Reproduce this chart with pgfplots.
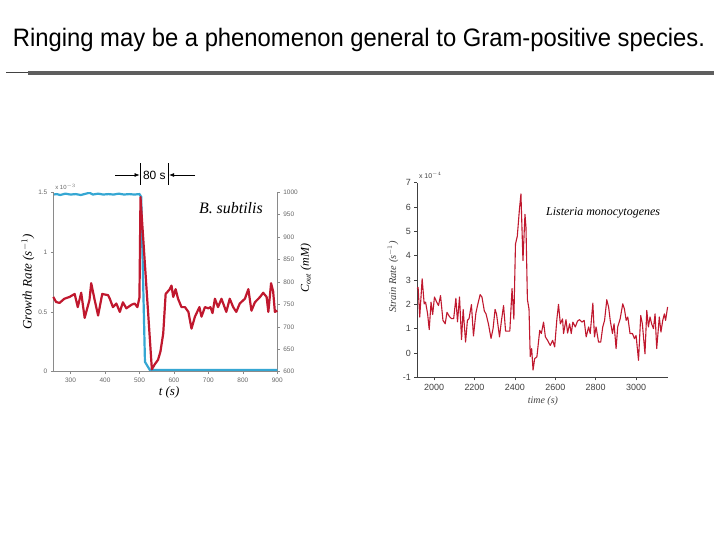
\documentclass[border=0pt]{standalone}
\usepackage{fontspec}
\setmainfont{Liberation Sans}
\newfontfamily\serif{Liberation Serif}
\usepackage{pgfplots}
\pgfplotsset{compat=1.18}
\usetikzlibrary{arrows.meta}

\definecolor{gred}{HTML}{C0182E}
\definecolor{gblue}{HTML}{35A7D3}
\definecolor{lgray}{HTML}{8A8A8A}
\definecolor{rule}{HTML}{5E5E5E}

\pgfplotsset{
  leftbox/.style={
    scale only axis, width=224bp, height=179.4bp,
    at={(53.3bp,-371.7bp)}, anchor=south west,
    xmin=250, xmax=900,
    tick align=outside, major tick length=2.5bp,
    axis line style={lgray, line width=0.6pt},
    tick style={lgray, line width=0.5pt},
    ticklabel style={font=\fontsize{6.5}{7}\selectfont, text=black!60},
    scaled ticks=false,
    /pgf/number format/1000 sep={},
    /pgf/number format/assume math mode=true,
  },
}

\begin{document}
\begin{tikzpicture}
\useasboundingbox (0,0) rectangle (720bp,-540bp);
\fill[white] (0,0) rectangle (720bp,-540bp);

% slide title and rule
\node[anchor=base, inner sep=0pt] at (359bp,-46.5bp)
  {\scalebox{1}[1.06]{\fontsize{23.9}{27}\selectfont Ringing may be a phenomenon general to Gram-positive species.}};
\draw[rule!70!black, line width=1.2bp] (6bp,-72.5bp) -- (28bp,-72.5bp);
\draw[rule, line width=3.6bp] (28bp,-73bp) -- (714bp,-73bp);

% ---- B. subtilis: C_out (right axis)
\begin{axis}[leftbox,
    hide x axis,
    axis y line*=right,
    ymin=600, ymax=1000,
    ytick={600,650,...,1000},
    ylabel={\serif\itshape C\textsubscript{out} (mM)},
    ylabel style={at={(rel axis cs:1.128,0.578)}, anchor=center, font=\fontsize{12}{13}\selectfont},
  ]
  \addplot[gblue, line width=2.2bp] coordinates {
    (250,995) (260,996) (270,994) (285,997) (300,995) (315,996) (330,994)
    (345,997) (355,999) (365,995) (380,997) (395,995) (410,996) (425,995)
    (440,997) (455,995) (470,996) (485,995) (500,996) (505,990)
    (516,622) (530,604) (600,604) (900,604)
  };
\end{axis}

% ---- B. subtilis: growth rate (left axis)
\begin{axis}[leftbox,
    axis x line*=bottom, axis y line*=left,
    ymin=0, ymax=1.5,
    ytick={0,0.5,1,1.5},
    xtick={300,400,...,900},
    ylabel={\serif\itshape Growth Rate (s$^{-1}$)},
    ylabel style={at={(rel axis cs:-0.113,0.5)}, anchor=center, font=\fontsize{13}{14}\selectfont},
    xlabel={\serif\itshape t (s)},
    xlabel style={at={(rel axis cs:0.517,-0.113)}, anchor=center, font=\fontsize{13}{14}\selectfont},
    clip=false,
  ]
  \addplot[gred, line width=2.2bp, line join=round] coordinates {
    (250,0.625) (258,0.583) (268,0.575) (282,0.61) (297,0.625) (312,0.65)
    (321,0.54) (331,0.66) (341,0.45) (355,0.6) (360,0.74) (370,0.6)
    (380,0.47) (392,0.65) (409,0.64) (414,0.61) (423,0.54) (433,0.57)
    (443,0.50) (452,0.58) (462,0.53) (477,0.56) (486,0.57) (494,0.54)
    (500,0.62) (503,1.46) (536,0.02) (544,0.06) (554,0.10) (561,0.17)
    (569,0.32) (576,0.65) (588,0.69) (593,0.72) (598,0.625) (605,0.69)
    (612,0.61) (622,0.54) (632,0.54) (642,0.50) (651,0.36) (661,0.46)
    (674,0.54) (680,0.46) (690,0.54) (700,0.53) (706,0.54) (712,0.49)
    (719,0.61) (728,0.54) (738,0.61) (752,0.50) (762,0.61) (772,0.54)
    (781,0.50) (791,0.57) (806,0.61) (816,0.69) (825,0.51) (835,0.58)
    (850,0.625) (859,0.66) (869,0.625) (874,0.50) (882,0.74) (888,0.67)
    (893,0.50) (900,0.51)
  };
  \node[anchor=center, font=\serif\itshape\fontsize{16}{17}\selectfont]
    at (rel axis cs:0.793,0.912) {B. subtilis};
  \node[anchor=west, inner sep=0pt, font=\fontsize{6}{7}\selectfont, text=black!60]
    at (rel axis cs:0.008,1.03) {x 10$^{-3}$};
\end{axis}

% 80 s marker
\draw[-{Latex[length=5bp,width=4bp]}, line width=0.6bp] (115bp,-175bp) -- (139.5bp,-175bp);
\draw[line width=0.6bp] (140.3bp,-163.3bp) -- (140.3bp,-185bp);
\node[font=\fontsize{12}{13}\selectfont, inner sep=0pt] at (154.3bp,-175bp) {80 s};
\draw[line width=0.6bp] (168.3bp,-163.3bp) -- (168.3bp,-185bp);
\draw[-{Latex[length=5bp,width=4bp]}, line width=0.6bp] (195bp,-175bp) -- (169.2bp,-175bp);

% ---- Listeria monocytogenes
\begin{axis}[
    scale only axis, width=250.7bp, height=194.6bp,
    at={(417.3bp,-377.3bp)}, anchor=south west,
    xmin=1917, xmax=3158, ymin=-1, ymax=7,
    axis x line*=bottom, axis y line*=left,
    xtick={2000,2200,...,3000}, ytick={-1,0,...,7},
    tick align=outside, major tick length=3bp,
    axis line style={black!75, line width=0.7pt},
    tick style={black!75, line width=0.6pt},
    ticklabel style={font=\fontsize{9}{10}\selectfont, text=black!75},
    scaled ticks=false,
    /pgf/number format/1000 sep={},
    /pgf/number format/assume math mode=true,
    ylabel={\serif\itshape Strain Rate (s$^{-1}$)},
    ylabel style={at={(rel axis cs:-0.097,0.515)}, anchor=center, font=\fontsize{10.5}{12}\selectfont, text=black!75},
    xlabel={\serif\itshape time (s)},
    xlabel style={at={(rel axis cs:0.501,-0.122)}, anchor=center, font=\fontsize{10}{11}\selectfont, text=black!75},
    clip=false,
  ]
  \addplot[gred, line width=1.1bp, line join=round] coordinates {
    (1917,2.64) (1921,2.70) (1929,1.48) (1941,3.05) (1951,2.02) (1958,2.09)
    (1968,1.61) (1976,0.96) (1985,2.09) (1993,1.58) (2002,2.30) (2013,2.09)
    (2022,1.95) (2032,2.36) (2044,1.34) (2055,1.20) (2064,1.67) (2076,1.50)
    (2087,1.41) (2097,1.41) (2108,2.25) (2116,1.28) (2126,2.30) (2136,0.55)
    (2144,1.79) (2156,0.45) (2165,1.34) (2173,1.41) (2185,1.99) (2195,0.70)
    (2207,1.64) (2215,1.95) (2228,2.40) (2237,2.30) (2249,1.72) (2257,1.61)
    (2269,1.20) (2282,0.60) (2292,1.00) (2302,1.79) (2309,1.61) (2324,0.66)
    (2333,1.30) (2344,1.95) (2354,0.90) (2366,0.90) (2375,0.90) (2386,2.65)
    (2395,1.39) (2403,4.48) (2412,4.80) (2422,5.85) (2430,6.54) (2440,3.80)
    (2450,5.70) (2455,5.16) (2462,2.20) (2470,1.80) (2476,-0.15) (2483,0.18)
    (2490,-0.70) (2498,-0.23) (2509,-0.16) (2523,0.93) (2531,0.80) (2542,1.27)
    (2551,0.66) (2562,0.52) (2575,0.31) (2587,0.52) (2597,0.25) (2608,1.40)
    (2616,2.00) (2625,1.20) (2636,1.40) (2641,0.80) (2653,1.37) (2661,0.82)
    (2671,1.20) (2679,0.80) (2687,1.27) (2699,1.07) (2710,1.31) (2720,1.37)
    (2732,1.27) (2743,1.34) (2753,0.66) (2765,1.07) (2773,0.80) (2786,2.05)
    (2794,0.66) (2802,1.07) (2814,0.45) (2825,0.45) (2835,1.07) (2844,1.34)
    (2855,2.19) (2864,1.89) (2872,1.34) (2883,0.80) (2891,1.20) (2901,0.18)
    (2909,1.07) (2921,1.40) (2934,2.02) (2942,1.82) (2951,1.34) (2959,1.48)
    (2970,0.80) (2982,0.80) (2992,0.59) (3000,0.72) (3012,-0.30) (3023,1.54)
    (3031,1.20) (3044,-0.03) (3053,1.75) (3061,1.07) (3069,1.48) (3077,1.20)
    (3086,1.00) (3094,1.61) (3102,0.18) (3115,1.48) (3123,0.86) (3132,1.34)
    (3140,1.61) (3146,1.34) (3156,1.89)
  };
  \node[anchor=center, font=\serif\itshape\fontsize{12}{13}\selectfont]
    at (rel axis cs:0.741,0.844) {Listeria monocytogenes};
  \node[anchor=west, inner sep=0pt, font=\fontsize{7}{8}\selectfont, text=black!75]
    at (rel axis cs:0.006,1.04) {x 10$^{-4}$};
\end{axis}
\end{tikzpicture}
\end{document}
